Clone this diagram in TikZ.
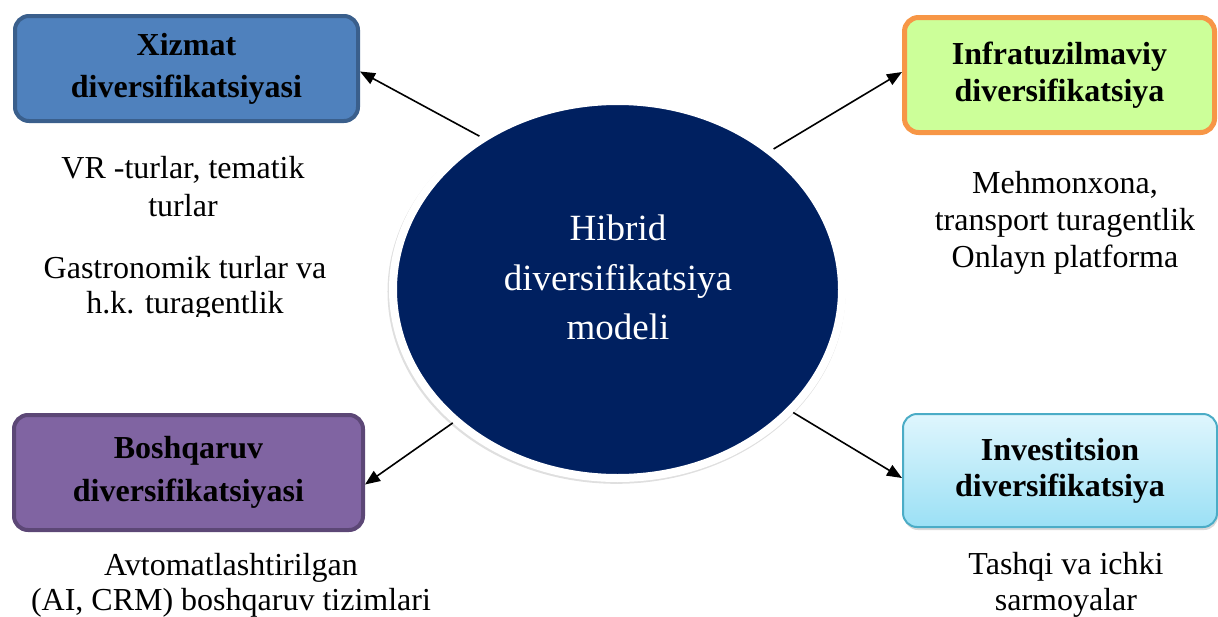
\documentclass[tikz,border=0pt]{standalone}
\usepackage{fontspec}
\setmainfont{Liberation Serif}
\usetikzlibrary{arrows.meta,shapes.geometric,shadows}
\definecolor{xizfill}{HTML}{4F81BD}
\definecolor{xizdraw}{HTML}{3A5F8C}
\definecolor{infill}{HTML}{CCFF99}
\definecolor{indraw}{HTML}{F79646}
\definecolor{boshfill}{HTML}{8064A2}
\definecolor{boshdraw}{HTML}{5C4776}
\definecolor{invtop}{HTML}{DFF6FD}
\definecolor{invbot}{HTML}{9BE0F5}
\definecolor{invdraw}{HTML}{4BACC6}
\definecolor{hubfill}{HTML}{002060}
\begin{document}
\begin{tikzpicture}[x=1pt,y=-1pt,
  box/.style={rectangle, rounded corners=14pt, align=center, inner sep=0pt,
    font=\fontsize{32}{42}\selectfont\bfseries},
  desc/.style={align=center, inner sep=0pt, font=\fontsize{32}{#1}\selectfont},
  conn/.style={-{Triangle[length=15pt,width=12pt]}, line width=1.6pt}]
\useasboundingbox (0,0) rectangle (1218,616);

% central ellipse
\node[ellipse, fill=hubfill, draw=white, line width=8pt, inner sep=0pt,
  minimum width=449pt, minimum height=377pt,
  drop shadow={shadow xshift=-1pt, shadow yshift=-2pt, shadow scale=1.02, opacity=0.25}]
  (hub) at (617.5,289.5) {};
\node[align=center, inner sep=0pt, text=white, font=\fontsize{37}{49.5}\selectfont]
  (hubtext) at (618,277.5) {Hibrid\\diversifikatsiya\\modeli};

% boxes
\node[box, fill=xizfill, draw=xizdraw, line width=4pt,
  minimum width=343pt, minimum height=105pt] (xizmat) at (186.5,68.5)
  {Xizmat\\diversifikatsiyasi};
\node[box, fill=infill, draw=indraw, line width=5pt, font=\fontsize{32}{37}\selectfont\bfseries,
  minimum width=310pt, minimum height=115pt] (infra) at (1059.5,75)
  {Infratuzilmaviy\\diversifikatsiya};
\node[box, fill=boshfill, draw=boshdraw, line width=4pt, font=\fontsize{32}{43}\selectfont\bfseries,
  minimum width=349pt, minimum height=115pt] (bosh) at (188.5,472.5)
  {Boshqaruv\\diversifikatsiyasi};
\node[box, top color=invtop, bottom color=invbot, draw=invdraw, line width=2pt,
  font=\fontsize{32}{36}\selectfont\bfseries,
  drop shadow={shadow xshift=1pt, shadow yshift=-3pt, opacity=0.3},
  minimum width=314pt, minimum height=113pt] (invest) at (1060,470.5)
  {Investitsion\\diversifikatsiya};

% descriptions
\node[desc=38] (d1) at (183,187) {VR -turlar, tematik\\turlar};
\begin{scope}
  \clip (0,0) rectangle (1218,316);
  \node[desc=35] (d2) at (185,288) {Gastronomik turlar va\\h.k. turagentlik};
\end{scope}
\node[desc=37] (d3) at (1065,223) {Mehmonxona,\\transport turagentlik\\Onlayn platforma};
\node[desc=35] (d4) at (231,585) {Avtomatlashtirilgan\\(AI, CRM) boshqaruv tizimlari};
\node[desc=36] (d5) at (1066,584.5) {Tashqi va ichki\\sarmoyalar};

% connectors
\draw[conn] (hub.132) -- ([yshift=-3pt]xizmat.east);
\draw[conn] (hub.42) -- ([yshift=3pt]infra.west);
\draw[conn] (hub.219) -- ([yshift=-12pt]bosh.east);
\draw[conn] (hub.325.5) -- ([yshift=-7.5pt]invest.west);
\end{tikzpicture}
\end{document}
